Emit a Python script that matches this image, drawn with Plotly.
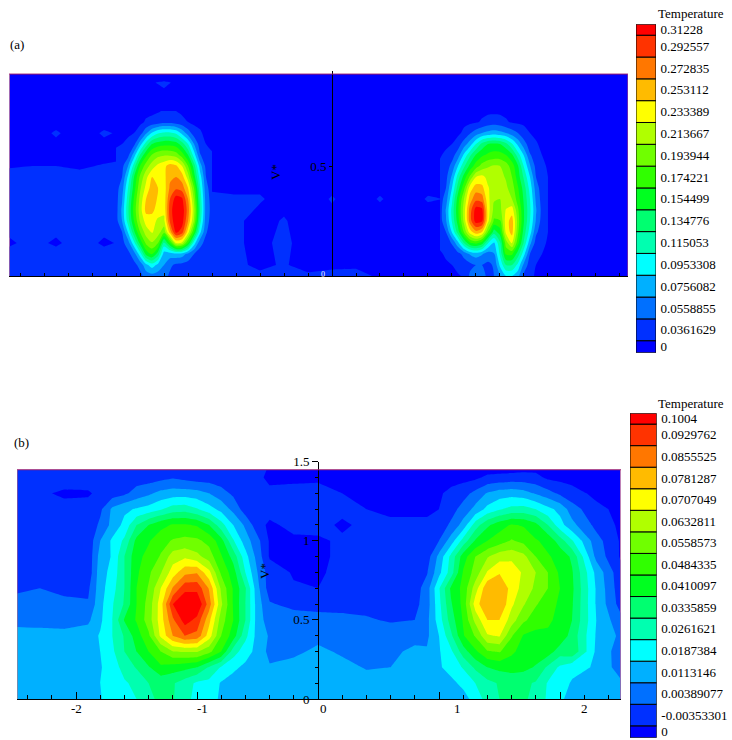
import numpy as np
import plotly.graph_objects as go

W, H = 732, 740
FONT = "Liberation Serif"

band_colors = ["#0000ff", "#0030ff", "#0070ff", "#00b0ff", "#00ffff", "#00ffb0", "#00ff70", "#00ff20",
               "#30ff00", "#70ff00", "#b0ff00", "#ffff00", "#ffbb00", "#ff7700", "#ff3300", "#ff0000"]

# Legend values, top to bottom, as printed
legend_a = ["0.31228", "0.292557", "0.272835", "0.253112", "0.233389", "0.213667", "0.193944", "0.174221",
            "0.154499", "0.134776", "0.115053", "0.0953308", "0.0756082", "0.0558855", "0.0361629", "0"]
legend_b = ["0.1004", "0.0929762", "0.0855525", "0.0781287", "0.0707049", "0.0632811", "0.0558573", "0.0484335",
            "0.0410097", "0.0335859", "0.0261621", "0.0187384", "0.0113146", "0.00389077", "-0.00353301", "0"]
legend_heights = [0.5] + [1.0] * 14 + [0.55]

# Field values are read as positions on the colour legend (0 = lowest band, 15 = highest band)
a_bg_x = [-2.69, -2.5, -2.3, -2.1, -1.9, -1.4, -1, -.8, -.6, -.4, -.2, 0, .2, .4, .6, .8, 1.4, 1.9, 2.1, 2.3, 2.47]
a_bg_y = [.918, .88, .75, .65, .55, .45, .35, .25, .15, .05, 0]
a_bg = [
    [.2, .2, .2, .2, .2, .2, .2, .2, .2, .2, .2, .2, .2, .2, .2, .2, .2, .2, .2, .2, .2],
    [.2, .2, .2, .2, .2, .55, .2, .2, .2, .2, .2, .2, .2, .2, .2, .2, .2, .2, .2, .2, .2],
    [.2, .2, .2, .2, .2, .3, .2, .2, .2, .2, .2, .2, .2, .2, .2, .2, .2, .2, .2, .2, .2],
    [.2, .3, .55, .3, .55, .2, .2, .2, .2, .2, .2, .2, .2, .2, .2, .2, .2, .2, .2, .2, .2],
    [.2, .3, .3, .3, .3, .55, .3, .2, .2, .2, .2, .2, .2, .2, .2, .2, .2, .2, .2, .2, .2],
    [.7, .7, .7, .6, .8, 1, .3, .3, .3, .2, .2, .2, .2, .2, .2, .2, .2, .2, .2, .2, .2],
    [.8, 1, 1, .9, 1, 1, .6, .55, .55, .3, .2, .55, .2, .55, .2, .55, .3, .2, .2, .2, .2],
    [.8, .9, .8, .9, .8, 1, .55, .6, .3, .55, .2, .3, .2, .2, .2, .2, .3, .2, .2, .2, .2],
    [.4, .7, .4, .8, .4, 1, .6, .55, .4, .6, .3, .2, .2, .2, .2, .2, .4, .2, .2, .2, .2],
    [1, 1, 1, .9, 1, 1, .8, .6, .4, .55, .3, .3, .3, .2, .2, .2, .8, .2, .2, .2, .2],
    [1, 1, 1, 1, 1, 1.2, 1, .8, .6, .7, .6, .8, .9, .3, .3, .3, 1, .3, .2, .2, .2],
]

a_blob_y = [.75, .7, .65, .6, .55, .5, .45, .4, .35, .3, .25, .2, .15, .1, .05, 0]
a_left_x = [-1.8, -1.75, -1.7, -1.65, -1.6, -1.55, -1.5, -1.45, -1.4, -1.35, -1.3, -1.25, -1.2, -1.15, -1.1, -1.05, -1.0]
a_left = [
    [.3, .3, .3, .3, .3, .3, .3, .4, .6, .8, .5, .3, .3, .3, .3, .3, .3],
    [.3, .3, .3, .3, .3, .6, .8, 1, 1.2, 1.2, 1, .8, .5, .3, .3, .3, .3],
    [.3, .3, .3, .5, 1, 2.3, 3.6, 4.4, 4.7, 4.7, 4.3, 3.2, 2, 1, .6, .3, .3],
    [.4, .5, .8, 1.2, 3, 5, 6.5, 7, 7.2, 7.2, 7, 6, 4.5, 2.5, 1, .5, .3],
    [.7, .9, 1.2, 3, 5.5, 7.3, 8.6, 9.2, 9.4, 9.3, 9, 8, 6.5, 4, 1.6, .9, .6],
    [1, 1.2, 2.5, 5, 7.5, 9, 10, 10.8, 11.2, 12, 11.7, 10.5, 8.5, 6, 3, 1.2, .9],
    [1.1, 1.5, 3.7, 6.5, 8.7, 10.2, 11.5, 11.3, 11.2, 12.3, 12.5, 12, 10, 7, 4, 1.5, 1],
    [1.1, 2, 4.5, 7, 9.3, 10.8, 12, 11.5, 11, 12.7, 13.3, 13, 11.5, 8.5, 4.7, 1.8, 1],
    [1.1, 2.4, 5, 7.6, 9.8, 11.5, 12.3, 11.3, 10.9, 13.5, 15, 14.7, 12.5, 9.3, 5.2, 2, 1.1],
    [1.1, 2.7, 5.3, 7.9, 10, 11.8, 11.8, 11, 10.8, 14, 15.4, 15.2, 13, 9.8, 5.5, 2, 1.2],
    [1.1, 2.5, 5, 7.5, 9.6, 10.9, 10.9, 10.3, 10.2, 13.7, 15.3, 15, 12.5, 9.4, 5, 1.9, 1.1],
    [1.1, 1.5, 3.6, 6.3, 8.5, 10, 10.6, 10, 8.8, 12, 14.8, 14, 11, 7.5, 3.8, 1.6, 1],
    [1, 1.2, 2, 4.2, 6.8, 8.7, 9.4, 8.5, 5.2, 7.5, 10.5, 10.2, 7.5, 4, 1.8, 1.2, 1],
    [1, 1, 1.2, 2, 4, 6.8, 7.6, 6, 3, 3, 3.2, 3, 2.2, 1.5, 1.1, 1, 1],
    [1, 1, 1, 1.2, 1.8, 3.2, 4, 3.2, 2.5, 1.7, 1.3, 1.2, 1.1, 1, 1, 1, 1],
    [1, 1, 1, 1, 1.2, 1.9, 2.1, 2, 1.9, 1.3, 1.2, 1.1, 1, 1, 1, 1, 1],
]
a_right_x = [.9, .95, 1.0, 1.05, 1.1, 1.15, 1.2, 1.25, 1.3, 1.35, 1.4, 1.45, 1.5, 1.55, 1.6, 1.65, 1.7, 1.75, 1.8]
a_right = [
    [.3, .3, .3, .3, .3, .3, .3, .3, .3, .3, .3, .3, .3, .3, .3, .3, .3, .3, .3],
    [.3, .3, .3, .3, .3, .3, .4, .6, .9, 1, .9, .6, .4, .3, .3, .3, .3, .3, .3],
    [.3, .3, .3, .3, .7, 1.4, 2, 2.5, 2.8, 3, 2.8, 2.5, 2, 1.5, .9, .5, .3, .3, .3],
    [.3, .3, .5, 1, 2, 3, 4.5, 5.8, 6.5, 6.7, 6.5, 5.8, 4.6, 3.2, 1.9, 1, .6, .3, .3],
    [.4, .7, 1.1, 2, 3.7, 5.3, 6.6, 7.3, 7.7, 7.9, 7.9, 7.5, 6.7, 5, 3.4, 1.6, 1, .5, .3],
    [.7, 1, 1.8, 3.5, 5.3, 6.8, 8, 8.9, 9.4, 9.6, 9.5, 9, 8, 6.6, 4.4, 2.6, 1.2, .7, .4],
    [.9, 1.2, 2.7, 5, 6.9, 8.7, 10.5, 10.8, 10.2, 9.9, 9.8, 9.4, 8.5, 7, 5.3, 3.5, 1.5, 1, .5],
    [1, 1.5, 3.5, 6, 8.2, 11, 12, 11.8, 10.6, 10, 9.8, 9.7, 9, 7.6, 6, 4.1, 2, 1, .6],
    [1, 2, 4.3, 7, 9.5, 12, 13.2, 13, 10.8, 9.6, 9.5, 9.6, 9.5, 8, 6.3, 4.5, 2.3, 1.1, .6],
    [1, 2.6, 4.8, 7.3, 10, 13, 15, 14.8, 11, 9.2, 9.2, 10.6, 11, 8.7, 6.5, 4.7, 2.6, 1.2, .6],
    [1, 2.4, 4.6, 7, 9.8, 13, 15, 14.7, 10.8, 8.3, 8.4, 11, 12, 9, 6.5, 4.5, 2.4, 1.1, .6],
    [.9, 1.5, 3.6, 6, 8.6, 11, 12.2, 11.5, 8.5, 6, 7, 10.8, 11.9, 8.7, 6, 4, 1.7, 1, .5],
    [.7, 1, 1.6, 3.2, 5.5, 7.3, 7.8, 7, 4.6, 3.3, 5.3, 9, 10.6, 7.8, 5.3, 2.8, 1.1, .7, .4],
    [.4, .6, .9, 1.2, 1.8, 2.6, 3, 2.6, 2, 2.4, 4.7, 7.7, 7.7, 6, 3.8, 1.5, .8, .5, .3],
    [.3, .4, .5, .8, 1, 1.2, 1.5, 1.5, 1.3, 1.6, 3.7, 5.5, 5.5, 4.2, 2.2, 1, .5, .3, .3],
    [.3, .3, .3, .4, .6, 1.7, 2.2, 2, 1.2, 1.5, 2.5, 3.5, 3.5, 2.8, 1.2, .7, .4, .3, .3],
]

b_x = [-2.49, -2.3, -2.1, -1.9,
       -1.8, -1.7, -1.6, -1.5, -1.4, -1.3, -1.2, -1.1, -1.0, -.9, -.8, -.7, -.6, -.5,
       -.4, -.2, 0, .2, .4, .6, .8,
       .9, 1.0, 1.1, 1.2, 1.3, 1.4, 1.5, 1.6, 1.7, 1.8, 1.9, 2.0, 2.1,
       2.3, 2.5]
b_y = [1.449, 1.4, 1.3, 1.2, 1.1, 1.0, .9, .8, .7, .6, .5, .4, .3, .2, .1, 0]
b_field = [
    [.9, .9, .9, .9, .9, .9, .9, .8, .8, .8, .8, .8, .8, .8, .8, .8, .8, .8, .4, .3, .3, .2, .2, .2, .2, .2, .2, .2, .2, .2, .2, .2, .2, .3, .3, .2, .2, .2, .2, .2],
    [.9, .7, .8, .9, .9, .9, 1, 1, 1, 1.2, 1.4, 1.2, 1, 1, .9, .8, .9, .7, .3, .3, .3, .2, .2, .2, .2, .2, .2, .2, .2, .3, .7, .8, .9, .9, .8, .3, .2, .2, .2, .2],
    [.8, .6, .4, .4, .7, 1, 1.3, 1.9, 2.3, 2.8, 3, 3, 2.9, 2.5, 1.9, 1.3, .9, .6, .7, .8, .9, .5, .2, .2, .2, .3, .4, .7, 1.1, 1.8, 2.6, 3, 3.1, 2.9, 2.4, 1.9, 1.3, .8, .3, .2],
    [.8, .8, .7, .8, 1.3, 2.7, 3.3, 3.6, 3.9, 4.4, 5, 5.1, 4.6, 3.9, 3.2, 2.2, 1, .8, .9, .9, 1.1, .8, .5, .3, .3, .3, .5, 1.1, 1.9, 2.8, 3.8, 4.4, 4.8, 4.9, 4.5, 3.8, 3.2, 2, .7, .3],
    [.8, .8, .7, .8, 1.7, 2.8, 3.8, 5.5, 6.5, 7.2, 7.6, 7.6, 7.4, 6.5, 4.9, 3.5, 2.3, .9, .3, .8, .9, .3, .8, .7, .7, .7, .9, 1.7, 2.9, 5, 6.3, 7.1, 7.6, 7.4, 6.8, 5.5, 3.9, 2.8, 1.2, .3],
    [.8, .8, .7, .8, 2.5, 3.7, 4.7, 6.8, 7.4, 8.1, 8.6, 8.8, 8.7, 8.2, 6.9, 4.6, 3, 1.8, .4, .3, .3, .7, .7, .7, .8, .9, 1.5, 3, 4.9, 6.6, 7.5, 8, 8.6, 8.2, 7.6, 7.2, 6, 4.6, 1.9, .4],
    [.8, .8, .7, .8, 2.9, 3.6, 5.5, 7.2, 7.8, 8.6, 10, 10.3, 9.8, 9, 7.6, 6.1, 3.9, 2.1, .4, .3, .3, .7, .7, .7, .8, 1, 2.8, 4.8, 7, 8.5, 9.4, 10.1, 10.2, 9.8, 8.5, 7.6, 7.2, 6.3, 2.2, .4],
    [.8, .8, .7, .8, 3.1, 3.8, 5.5, 7.3, 8.3, 9.4, 11, 12.2, 12.4, 10.8, 8.3, 7, 4.5, 2.5, 1, .4, .4, .7, .8, .8, 1, 1.4, 3.2, 5, 7.6, 8.9, 10.6, 11.4, 11.2, 10.3, 9.5, 8.5, 7.3, 6.6, 3.2, .8],
    [1.4, 1.5, 1.3, 1.3, 3.1, 4.1, 5.5, 7.5, 8.6, 10.5, 12.6, 14.2, 14.2, 12.4, 9.3, 7.4, 5.6, 2.8, 1, .6, .5, .9, .8, .8, 1, 2, 4.4, 6.7, 7.8, 10, 12.3, 12.5, 11.1, 10.1, 9.3, 8.5, 7.5, 6.7, 3.4, .9],
    [1.7, 1.7, 1.7, 1.6, 3.2, 4.4, 5.6, 7.5, 8.9, 11, 14.5, 15.5, 15.5, 13, 9.7, 7.4, 5.5, 3, 1.6, 1.2, 1.1, 1.1, 1.2, 1, 1.2, 2, 4.2, 6.4, 7.8, 11, 12.5, 12.5, 10.7, 9.6, 8.6, 8, 7.3, 6.6, 3.4, 1.1],
    [2.1, 2, 2.1, 2.3, 3.3, 4.5, 6.6, 7.6, 9, 11, 13.3, 15, 14.2, 11.8, 9, 7.5, 5.5, 3, 2, 2, 1.9, 1.8, 1.6, 1.4, 1.5, 2.2, 4, 6, 7.6, 9.8, 11.5, 11.5, 10, 8.7, 8, 7.7, 7.2, 6.5, 3.5, 1.8],
    [3, 3, 2.8, 3, 3.6, 4.5, 5.6, 7, 8.3, 10.7, 12.5, 13.5, 13.2, 11, 8.5, 7, 4.8, 3.1, 2.4, 2.1, 2.1, 2, 2, 2, 2.2, 2.3, 3.5, 5.3, 7.4, 8.6, 10.4, 10.6, 8.6, 7.4, 7.2, 7.3, 7.2, 6.1, 3.4, 2.3],
    [3.2, 3.3, 3.3, 3.3, 3.5, 4.3, 5.5, 6.5, 7.5, 8.5, 9.5, 9.6, 9.6, 8.8, 7.5, 5, 3.9, 3.2, 2.2, 2.2, 2.8, 2.3, 2.2, 2.3, 2.7, 2.6, 3.4, 4.3, 6, 7.3, 8.4, 8.6, 7.7, 7.1, 7, 7, 6, 6.3, 3.3, 2],
    [3.2, 3.3, 3.3, 3.3, 3.4, 4.1, 4.8, 5.6, 6.4, 7.3, 7, 6.8, 6.5, 5.4, 4.4, 3.7, 3.3, 3.1, 2.6, 3, 3.1, 2.9, 2.4, 2.5, 2.9, 3.2, 3.4, 3.8, 4.6, 5.7, 6.5, 6.8, 6.9, 6.8, 6.4, 5.3, 4.3, 3.8, 3.4, 2],
    [3.1, 3.2, 3.2, 3.3, 3.5, 4.1, 4.4, 4.7, 5.5, 5.8, 5.6, 5, 4.3, 4.2, 3.4, 3.1, 3, 3, 3.1, 3.1, 3.1, 3, 3, 3, 3, 3, 3.1, 3.3, 3.7, 4.5, 5.2, 5.6, 5.8, 5.7, 5.4, 4.4, 3.9, 3.4, 2.8, 2.7],
    [3.2, 3.1, 3.1, 3.2, 3.4, 4.2, 4.3, 4.5, 5.3, 5.7, 5.6, 4.7, 4.3, 4, 3.3, 3, 3, 3, 3, 3, 3, 3, 3, 3, 3, 3, 3, 3, 3.2, 3.8, 5, 5.5, 5.6, 5.6, 5.3, 4.3, 3.6, 3.3, 3, 2.8],
]

A_FIRST, A_STEP = 0.0361629, 0.0197227
B_FIRST, B_STEP = -0.00353301, 0.00742378


def dx(left, right):
    return [left / W, right / W]


def dy(top, bottom):
    return [1 - bottom / H, 1 - top / H]


colorscale = [[i / 15, c] for i, c in enumerate(band_colors)]


def field_trace(x, y, rows, first, step, xaxis, yaxis, smooth):
    z = first + (np.array(rows, dtype=float)[::-1] - 1) * step
    return go.Contour(
        x=x, y=list(y)[::-1], z=z, xaxis=xaxis, yaxis=yaxis,
        autocontour=False,
        contours=dict(start=first - step / 2, end=first + 13.6 * step, size=step, coloring="fill", showlines=False),
        line=dict(width=0, smoothing=smooth), colorscale=colorscale, showscale=False,
        hoverinfo="skip",
    )


def legend_trace(heights, xaxis, yaxis):
    up = list(heights)[::-1]
    base = np.concatenate([[0], np.cumsum(up)[:-1]])
    return go.Bar(x=[0] * len(up), y=up, base=base, width=1, xaxis=xaxis, yaxis=yaxis,
                  marker=dict(color=band_colors, line=dict(color="black", width=1)),
                  showlegend=False, hoverinfo="skip")


fig = go.Figure()
fig.add_trace(field_trace(a_bg_x, a_bg_y, a_bg, A_FIRST, A_STEP, "x", "y", 0))
fig.add_trace(field_trace(a_left_x, a_blob_y, a_left, A_FIRST, A_STEP, "x", "y", 0.8))
fig.add_trace(field_trace(a_right_x, a_blob_y, a_right, A_FIRST, A_STEP, "x", "y", 0.8))
fig.add_trace(field_trace(b_x, b_y, b_field, B_FIRST, B_STEP, "x2", "y2", 0))
fig.add_trace(legend_trace(legend_heights, "x3", "y3"))
fig.add_trace(legend_trace(legend_heights, "x4", "y4"))

tickfont = dict(family=FONT, size=13, color="black")
leg_total = sum(legend_heights)
leg_up = legend_heights[::-1]
leg_ticks = list(np.cumsum(leg_up) - np.array(leg_up) / 2)
hidden = dict(visible=False, range=[-0.5, 0.5], fixedrange=True, automargin=False)

frame_a = dict(x0=-2.692, x1=2.467, top=0.918)
frame_b = dict(x0=-2.488, x1=2.504, top=1.449)


def frame(x0, x1, top, xref, yref):
    common = dict(type="line", xref=xref, yref=yref, layer="above")
    return [
        dict(common, x0=x0, x1=x1, y0=top, y1=top, line=dict(color="#98186e", width=1)),
        dict(common, x0=x0, x1=x0, y0=0, y1=top, line=dict(color="#d86a6a", width=1)),
        dict(common, x0=x1, x1=x1, y0=0, y1=top, line=dict(color="#c04a70", width=1)),
    ]


def px_note(text, x, y, size=13, color="black", angle=0):
    return dict(text=text, xref="paper", yref="paper", x=x / W, y=1 - y / H, xanchor="center", yanchor="middle",
                showarrow=False, textangle=angle, font=dict(family=FONT, size=size, color=color))


annotations = [
    px_note("(a)", 17, 44), px_note("(b)", 21, 442),
    px_note("Temperature", 691, 13), px_note("Temperature", 691, 403),
    px_note("V*", 275, 172, angle=-90), px_note("V*", 264, 571, angle=-90),
    px_note("0", 323, 274, size=8, color="white"),
    px_note("-2", 76, 708), px_note("-1", 203, 708), px_note("0", 323, 708),
    px_note("1", 457, 708), px_note("2", 584, 708),
]

fig.update_layout(
    template="none",
    width=W, height=H, margin=dict(l=0, r=0, t=0, b=0, pad=0), paper_bgcolor="white", plot_bgcolor="white",
    showlegend=False, annotations=annotations,
    shapes=frame(frame_a["x0"], frame_a["x1"], frame_a["top"], "x", "y")
    + frame(frame_b["x0"], frame_b["x1"], frame_b["top"], "x2", "y2"),
    xaxis=dict(domain=dx(9, 628), range=[-2.692, 2.467], anchor="y", showgrid=False, zeroline=False, showline=True,
               linecolor="black", tick0=0, dtick=0.2, ticks="inside", ticklen=3, tickcolor="black",
               showticklabels=False, automargin=False),
    yaxis=dict(domain=dy(71, 276), range=[0, 0.932], anchor="free", position=332 / W, showgrid=False, zeroline=False,
               showline=True, linecolor="black", tickvals=[0.5], ticktext=["0.5"], ticks="outside", ticklen=3,
               tickcolor="black", tickfont=tickfont, automargin=False),
    xaxis2=dict(domain=dx(17, 621), range=[-2.488, 2.504], anchor="y2", showgrid=False, zeroline=False, showline=True,
                linecolor="black", tickvals=[-2, -1, 0, 1, 2], ticks="inside", ticklen=7, tickcolor="black",
                showticklabels=False, automargin=False,
                minor=dict(tick0=0, dtick=0.2, ticks="inside", ticklen=4, tickcolor="black")),
    yaxis2=dict(domain=dy(461.7, 699), range=[0, 1.5], anchor="free", position=318 / W, showgrid=False, zeroline=False,
                showline=True, linecolor="black", tickvals=[0, 0.5, 1, 1.5], ticktext=["0", "0.5", "1", "1.5"],
                ticks="outside", ticklen=6, tickcolor="black", tickfont=tickfont, automargin=False,
                minor=dict(tick0=0, dtick=0.1, ticks="outside", ticklen=3, tickcolor="black")),
    xaxis3=dict(hidden, domain=dx(636, 656), anchor="y3"),
    yaxis3=dict(domain=dy(24.3, 352.7), range=[0, leg_total], anchor="x3", side="right", showgrid=False,
                zeroline=False, tickvals=leg_ticks, ticktext=legend_a[::-1], ticks="outside", ticklen=1,
                tickcolor="rgba(0,0,0,0)", tickfont=tickfont, fixedrange=True, automargin=False),
    xaxis4=dict(hidden, domain=dx(630, 656.7), anchor="y4"),
    yaxis4=dict(domain=dy(413.3, 737.7), range=[0, leg_total], anchor="x4", side="right", showgrid=False,
                zeroline=False, tickvals=leg_ticks, ticktext=legend_b[::-1], ticks="outside", ticklen=1,
                tickcolor="rgba(0,0,0,0)", tickfont=tickfont, fixedrange=True, automargin=False),
)

fig.write_html("out.html", config=dict(displayModeBar=False),
               post_script="document.body.style.margin='0';document.body.style.overflow='hidden';")
